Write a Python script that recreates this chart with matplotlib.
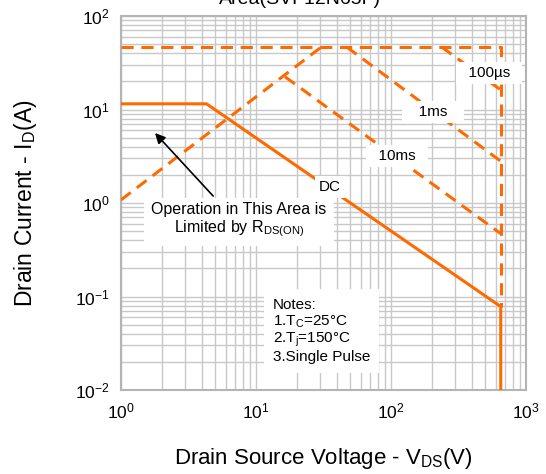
import numpy as np
import matplotlib.pyplot as plt
from matplotlib.ticker import LogLocator, NullFormatter

plt.rcParams['font.family'] = ['Liberation Sans', 'DejaVu Sans']
plt.rcParams['mathtext.fontset'] = 'custom'
plt.rcParams['mathtext.rm'] = 'Liberation Sans'
plt.rcParams['mathtext.it'] = 'Liberation Sans:italic'

# SOA curve data (V, A)
dc_v = [1, 4.3, 650, 650]
dc_i = [11.5, 11.5, 0.078, 0.01]
rds_v = [1, 30.5]
rds_i = [1.08, 46.6]
lim_v = [1, 650, 650]
lim_i = [46.6, 46.6, 0.078]
ms1_v = [47, 650]
ms1_i = [46.6, 2.8]
ms10_v = [16.4, 650]
ms10_i = [22.4, 0.47]
us100_v = [237, 650]
us100_i = [46.6, 16.2]

orange = '#ff6a00'
gridc = '#c8c8c8'

fig = plt.figure(figsize=(5.46, 4.74), dpi=100)
ax = fig.add_axes([121/546, 1-390/474, 405/546, 374/474])
ax.set_xscale('log')
ax.set_yscale('log')
ax.set_xlim(1, 1000)
ax.set_ylim(0.01, 100)

ax.xaxis.set_minor_locator(LogLocator(base=10, subs=np.arange(2, 10)))
ax.yaxis.set_minor_locator(LogLocator(base=10, subs=np.arange(2, 10)))
ax.xaxis.set_minor_formatter(NullFormatter())
ax.yaxis.set_minor_formatter(NullFormatter())
ax.grid(True, which='both', color=gridc, lw=1)
ax.tick_params(which='both', length=0, labelsize=12.5, pad=8)
for s in ax.spines.values():
    s.set_color('#b4b4b4')
    s.set_linewidth(1.5)

dash = (0, (4, 2.5))
ax.plot(dc_v, dc_i, color=orange, lw=2.2, zorder=3)
for v, i in [(rds_v, rds_i), (lim_v, lim_i), (ms1_v, ms1_i), (ms10_v, ms10_i), (us100_v, us100_i)]:
    ax.plot(v, i, color=orange, lw=2.2, ls=dash, zorder=3)

lbl_box = dict(facecolor='white', edgecolor='none', boxstyle='square,pad=0.25')
ax.text(532, 24.5, '  100µs  ', fontsize=11, ha='center', va='center', zorder=5, bbox=lbl_box)
ax.text(205, 9.4, '   1ms   ', fontsize=11, ha='center', va='center', zorder=5, bbox=lbl_box)
ax.text(111, 3.18, '  10ms  ', fontsize=11, ha='center', va='center', zorder=5, bbox=lbl_box)
ax.text(35.3, 1.48, 'DC', fontsize=11, ha='center', va='center', zorder=5, bbox=lbl_box)

ax.text(7.48, 0.657, 'Operation in This Area is\nLimited by R$_\\mathregular{DS(ON)}$',
        fontsize=11.5, ha='center', va='center', linespacing=1.1, zorder=5,
        bbox=dict(facecolor='white', edgecolor='none', boxstyle='square,pad=0.45'))
ax.annotate('', xy=(1.73, 5.89), xytext=(4.97, 1.13),
            arrowprops=dict(arrowstyle='-|>', color='black', lw=1.2, mutation_scale=15), zorder=6)

ax.text(13.3, 0.0964, 'Notes:\n1.T$_\\mathregular{C}$=25°C\n2.T$_\\mathregular{j}$=150°C\n3.Single Pulse',
        fontsize=11, ha='left', va='top', linespacing=1.1, zorder=5,
        bbox=dict(facecolor='white', edgecolor='none', boxstyle='square,pad=0.6'))

ax.set_xlabel('Drain Source Voltage - V$_\\mathregular{DS}$(V)', fontsize=16, labelpad=18)
ax.set_ylabel('Drain Current - I$_\\mathregular{D}$(A)', fontsize=16.5, labelpad=26)

fig.text(300/546, 1-4/474, 'Area(SVF12N65F)', fontsize=14, ha='center', va='baseline')

fig.savefig('out.png', dpi=100)
